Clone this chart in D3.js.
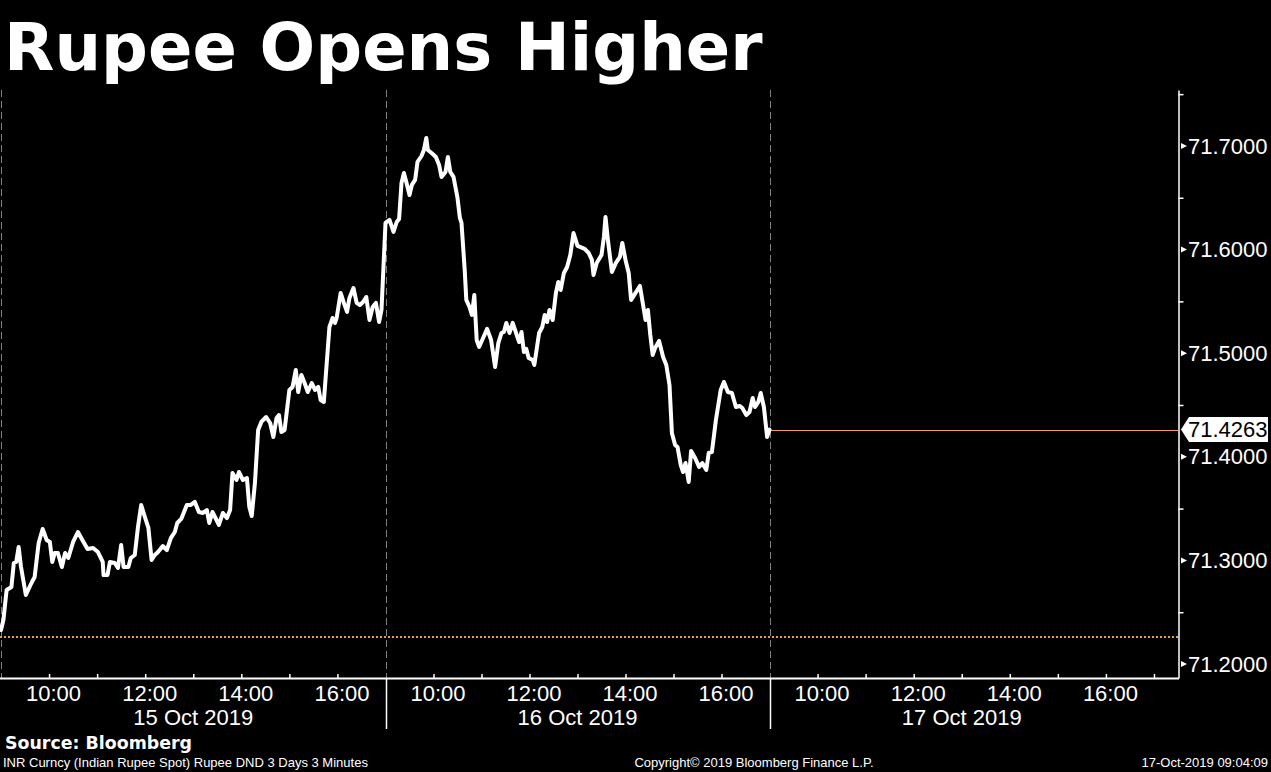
<!DOCTYPE html>
<html>
<head>
<meta charset="utf-8">
<script src="https://cdn.jsdelivr.net/npm/d3@7"></script>
<style>
  html, body { margin: 0; padding: 0; background: #000; }
  text { fill: #fff; }
</style>
</head>
<body>
<div id="chart"></div>
<script>
const title = 'Rupee Opens Higher';
const sourceLine = 'Source: Bloomberg';
const tickerLine = 'INR Curncy (Indian Rupee Spot) Rupee DND 3 Days 3 Minutes';
const copyrightLine = 'Copyright\u00a9 2019 Bloomberg Finance L.P.';
const stampLine = '17-Oct-2019 09:04:09';

const dayDates = ['2019-10-15', '2019-10-16', '2019-10-17'];
const dayLabels = ['15 Oct 2019', '16 Oct 2019', '17 Oct 2019'];
const sessionOpen = '09:00';
const sessionClose = '17:00';
const lastSessionEnd = '17:30';
const hourTicks = ['10:00', '11:00', '12:00', '13:00', '14:00', '15:00', '16:00'];
const hourLabels = ['10:00', '12:00', '14:00', '16:00'];
const dateLabelAt = '13:00';

const yTicks = [71.2, 71.3, 71.4, 71.5, 71.6, 71.7];
const yMinorTicks = [71.25, 71.35, 71.45, 71.55, 71.65, 71.75];
const yDomain = [71.1865, 71.754];

const lastPrice = 71.4263;
const refLevel = 71.226;

// INR per USD, 3 minute bars
const day1 = [
  ['09:00', 71.2328], ['09:03', 71.2425], ['09:07', 71.2714], ['09:13', 71.2743], ['09:16', 71.2975],
  ['09:19', 71.2985], ['09:22', 71.3129], ['09:25', 71.2936], ['09:31', 71.2666], ['09:38', 71.2782],
  ['09:42', 71.2840], ['09:47', 71.3168], ['09:52', 71.3303], ['09:57', 71.3197], ['10:01', 71.3178],
  ['10:04', 71.2985], ['10:07', 71.3071], ['10:11', 71.3071], ['10:16', 71.2936], ['10:20', 71.3071],
  ['10:24', 71.3023], ['10:30', 71.3178], ['10:36', 71.3274], ['10:43', 71.3178], ['10:48', 71.3110],
  ['10:55', 71.3120], ['11:01', 71.3081], ['11:07', 71.2985], ['11:08', 71.2859], ['11:13', 71.2859],
  ['11:16', 71.2985], ['11:22', 71.2975], ['11:26', 71.2927], ['11:30', 71.3149], ['11:33', 71.2936],
  ['11:39', 71.2936], ['11:42', 71.3023], ['11:47', 71.3052], ['11:51', 71.3322], ['11:55', 71.3535],
  ['12:00', 71.3409], ['12:04', 71.3313], ['12:08', 71.3004], ['12:12', 71.3052], ['12:16', 71.3081],
  ['12:22', 71.3139], ['12:27', 71.3100], ['12:32', 71.3216], ['12:37', 71.3274], ['12:40', 71.3361],
  ['12:45', 71.3400], ['12:52', 71.3535], ['12:57', 71.3535], ['13:02', 71.3564], ['13:07', 71.3467],
  ['13:12', 71.3458], ['13:17', 71.3486], ['13:20', 71.3361], ['13:24', 71.3467], ['13:29', 71.3390],
  ['13:32', 71.3342], ['13:37', 71.3458], ['13:42', 71.3409], ['13:46', 71.3486], ['13:49', 71.3844],
  ['13:54', 71.3776], ['13:57', 71.3853], ['14:02', 71.3776], ['14:07', 71.3795], ['14:10', 71.3515],
  ['14:13', 71.3429], ['14:17', 71.3747], ['14:21', 71.4259], ['14:25', 71.4336], ['14:31', 71.4384],
  ['14:36', 71.4326], ['14:40', 71.4191], ['14:44', 71.4375], ['14:47', 71.4403], ['14:50', 71.4239],
  ['14:54', 71.4259], ['14:57', 71.4452], ['15:00', 71.4645], ['15:04', 71.4674], ['15:08', 71.4838],
  ['15:11', 71.4625], ['15:15', 71.4790], ['15:19', 71.4712], ['15:23', 71.4625], ['15:28', 71.4712],
  ['15:32', 71.4645], ['15:36', 71.4674], ['15:39', 71.4548], ['15:43', 71.4529], ['15:46', 71.4838],
  ['15:50', 71.5253], ['15:54', 71.5340], ['15:57', 71.5292], ['15:59', 71.5340], ['16:04', 71.5581],
  ['16:08', 71.5485], ['16:12', 71.5398], ['16:15', 71.5533], ['16:20', 71.5629], ['16:24', 71.5485],
  ['16:28', 71.5465], ['16:32', 71.5494], ['16:36', 71.5542], ['16:40', 71.5320], ['16:44', 71.5446],
  ['16:48', 71.5485], ['16:52', 71.5301], ['16:55', 71.5417]
];

const day2 = [
  ['09:00', 71.6257], ['09:05', 71.6286], ['09:10', 71.6170], ['09:14', 71.6266], ['09:17', 71.6295],
  ['09:20', 71.6643], ['09:23', 71.6739], ['09:26', 71.6653], ['09:30', 71.6527], ['09:33', 71.6624],
  ['09:37', 71.6672], ['09:40', 71.6846], ['09:45', 71.6903], ['09:48', 71.6961], ['09:51', 71.7077],
  ['09:53', 71.6961], ['09:59', 71.6923], ['10:03', 71.6894], ['10:07', 71.6817], ['10:10', 71.6701],
  ['10:15', 71.6749], ['10:18', 71.6894], ['10:21', 71.6749], ['10:25', 71.6701], ['10:30', 71.6498],
  ['10:33', 71.6305], ['10:35', 71.6257], ['10:39', 71.5803], ['10:41', 71.5514], ['10:45', 71.5446],
  ['10:48', 71.5369], ['10:51', 71.5562], ['10:54', 71.5127], ['10:57', 71.5060], ['11:02', 71.5147],
  ['11:07', 71.5234], ['11:12', 71.5127], ['11:17', 71.4867], ['11:21', 71.5098], ['11:25', 71.5195],
  ['11:28', 71.5205], ['11:31', 71.5292], ['11:35', 71.5195], ['11:39', 71.5292], ['11:44', 71.5176],
  ['11:47', 71.5108], ['11:50', 71.5205], ['11:53', 71.5012], ['11:56', 71.5041], ['11:59', 71.4954],
  ['12:04', 71.4934], ['12:06', 71.4886], ['12:12', 71.5195], ['12:16', 71.5253], ['12:19', 71.5369],
  ['12:22', 71.5301], ['12:25', 71.5417], ['12:29', 71.5320], ['12:33', 71.5581], ['12:36', 71.5687],
  ['12:39', 71.5610], ['12:43', 71.5774], ['12:47', 71.5832], ['12:51', 71.5948], ['12:55', 71.6160],
  ['13:00', 71.6035], ['13:09', 71.6006], ['13:14', 71.5967], ['13:18', 71.5900], ['13:20', 71.5755],
  ['13:24', 71.5871], ['13:30', 71.5948], ['13:33', 71.6122], ['13:35', 71.6315], ['13:38', 71.6093],
  ['13:43', 71.5784], ['13:48', 71.5871], ['13:53', 71.5929], ['13:56', 71.6064], ['14:00', 71.5900],
  ['14:04', 71.5774], ['14:07', 71.5514], ['14:11', 71.5562], ['14:18', 71.5649], ['14:22', 71.5465],
  ['14:25', 71.5320], ['14:28', 71.5417], ['14:31', 71.5176], ['14:34', 71.4983], ['14:37', 71.5050],
  ['14:42', 71.5118], ['14:47', 71.4963], ['14:51', 71.4886], ['14:55', 71.4693], ['14:58', 71.4230],
  ['15:02', 71.4114], ['15:05', 71.4095], ['15:09', 71.3921], ['15:12', 71.3853], ['15:15', 71.3940],
  ['15:19', 71.3757], ['15:22', 71.4056], ['15:27', 71.3988], ['15:32', 71.3902], ['15:36', 71.3940],
  ['15:41', 71.3873], ['15:44', 71.4037], ['15:48', 71.4046], ['15:53', 71.4355], ['15:59', 71.4645],
  ['16:03', 71.4722], ['16:08', 71.4625], ['16:13', 71.4616], ['16:18', 71.4481], ['16:23', 71.4490],
  ['16:26', 71.4471], ['16:31', 71.4403], ['16:35', 71.4432], ['16:39', 71.4568], ['16:42', 71.4481],
  ['16:46', 71.4529], ['16:49', 71.4616], ['16:53', 71.4481], ['16:57', 71.4191]
];

const day3 = [
  ['09:00', 71.4263]
];

const W = 1271;
const H = 772;
const plot = { left: 0, right: 1178, top: 90, bottom: 678 };

const parse = d3.timeParse('%Y-%m-%d %H:%M');
const at = (day, hm) => parse(`${dayDates[day]} ${hm}`);

const series = [day1, day2, day3]
  .flatMap((rows, i) => rows.map(([t, v]) => ({ t: at(i, t), v: v })));

// each day is its own 9:00-17:00 stretch, so a piecewise time scale
const x = d3.scaleTime()
  .domain([at(0, sessionOpen), at(0, sessionClose), at(1, sessionOpen), at(1, sessionClose),
           at(2, sessionOpen), at(2, lastSessionEnd)])
  .range([1, 385.5, 385.5, 769.5, 769.5, plot.right]);

const y = d3.scaleLinear()
  .domain(yDomain)
  .range([plot.bottom, plot.top]);

const svg = d3.select('#chart')
  .append('svg')
  .attr('width', W)
  .attr('height', H)
  .style('display', 'block')
  .style('background', '#000');

svg.append('rect').attr('width', W).attr('height', H).attr('fill', '#000');

// title
svg.append('text')
  .attr('x', 4)
  .attr('y', 70)
  .style('font-family', '"DejaVu Sans", Verdana, sans-serif')
  .style('font-weight', 'bold')
  .style('font-size', '65.5px')
  .text(title);

// dashed day separators in the plot
const dayStarts = dayDates.map((d, i) => at(i, sessionOpen));
svg.append('g')
  .selectAll('line')
  .data(dayStarts)
  .join('line')
  .attr('x1', d => Math.round(x(d)) + 0.5)
  .attr('x2', d => Math.round(x(d)) + 0.5)
  .attr('y1', plot.top)
  .attr('y2', plot.bottom)
  .attr('stroke', '#808080')
  .attr('stroke-width', 1)
  .attr('stroke-dasharray', '7,4');

// reference level (dotted orange)
svg.append('line')
  .attr('x1', plot.left)
  .attr('x2', plot.right)
  .attr('y1', y(refLevel))
  .attr('y2', y(refLevel))
  .attr('stroke', '#e9a04c')
  .attr('stroke-width', 2)
  .attr('stroke-dasharray', '2,2');

// last price line
svg.append('line')
  .attr('x1', x(at(2, day3[0][0])))
  .attr('x2', plot.right)
  .attr('y1', Math.round(y(lastPrice)) + 0.5)
  .attr('y2', Math.round(y(lastPrice)) + 0.5)
  .attr('stroke', '#f09a7c')
  .attr('stroke-width', 1);

// price line
const line = d3.line()
  .x(d => x(d.t))
  .y(d => y(d.v));

svg.append('path')
  .datum(series)
  .attr('d', line)
  .attr('fill', 'none')
  .attr('stroke', '#fff')
  .attr('stroke-width', 4)
  .attr('stroke-linejoin', 'round')
  .attr('stroke-linecap', 'round');

// right axis
const yAxis = svg.append('g')
  .attr('transform', `translate(${plot.right + 0.5},0)`)
  .call(d3.axisRight(y).tickValues(yMinorTicks).tickSizeInner(5).tickSizeOuter(0).tickFormat(''));
yAxis.select('.domain').attr('stroke', '#fff').attr('stroke-width', 1.5);
yAxis.selectAll('.tick line').attr('stroke', '#fff').attr('stroke-width', 1.5);

const yLabels = svg.append('g')
  .selectAll('g')
  .data(yTicks)
  .join('g')
  .attr('transform', d => `translate(${plot.right},${y(d)})`);
yLabels.append('path')
  .attr('d', 'M3,-3L9,0L3,3Z')
  .attr('fill', '#fff');
yLabels.append('text')
  .attr('x', 10)
  .attr('dy', '0.35em')
  .style('font-family', '"Liberation Sans", Arial, sans-serif')
  .style('font-size', '22px')
  .text(d3.format('.4f'));

// last price tag
const tag = svg.append('g')
  .attr('transform', `translate(${plot.right},${y(lastPrice)})`);
tag.append('path')
  .attr('d', 'M3,0L11,-12.5H90V12.5H11Z')
  .attr('fill', '#fff');
tag.append('text')
  .attr('x', 10)
  .attr('dy', '0.35em')
  .style('font-family', '"Liberation Sans", Arial, sans-serif')
  .style('font-size', '22px')
  .style('fill', '#000')
  .text(d3.format('.4f')(lastPrice));

// bottom axis: hour ticks
const tickDates = dayDates.flatMap((d, i) => (i === 2 ? hourTicks.concat(['17:00']) : hourTicks).map(h => at(i, h)));
const xAxis = svg.append('g')
  .attr('transform', `translate(0,${plot.bottom})`)
  .call(d3.axisBottom(x).tickValues(tickDates).tickSizeInner(-4).tickSizeOuter(0).tickFormat(''));
xAxis.select('.domain').remove();
xAxis.selectAll('.tick line').attr('stroke', '#fff').attr('stroke-width', 1.5);

svg.append('line')
  .attr('x1', plot.left)
  .attr('x2', plot.right + 1)
  .attr('y1', plot.bottom + 0.5)
  .attr('y2', plot.bottom + 0.5)
  .attr('stroke', '#fff')
  .attr('stroke-width', 2);

// hour labels
const labelDates = dayDates.flatMap((d, i) => hourLabels.map(h => at(i, h)));
const xLabels = svg.append('g')
  .attr('transform', `translate(0,${plot.bottom})`)
  .call(d3.axisBottom(x).tickValues(labelDates).tickSize(0).tickPadding(7).tickFormat(d3.timeFormat('%H:%M')));
xLabels.select('.domain').remove();
xLabels.selectAll('text')
  .attr('fill', '#fff')
  .attr('dx', 4)
  .style('font-family', '"Liberation Sans", Arial, sans-serif')
  .style('font-size', '22px');

// date labels and solid separators under the axis
svg.append('g')
  .selectAll('text')
  .data(dayLabels)
  .join('text')
  .attr('x', (d, i) => x(at(i, dateLabelAt)))
  .attr('y', 725)
  .attr('text-anchor', 'middle')
  .style('font-family', '"Liberation Sans", Arial, sans-serif')
  .style('font-size', '22px')
  .text(d => d);

svg.append('g')
  .selectAll('line')
  .data(dayStarts.slice(1))
  .join('line')
  .attr('x1', d => Math.round(x(d)) + 0.5)
  .attr('x2', d => Math.round(x(d)) + 0.5)
  .attr('y1', plot.bottom)
  .attr('y2', 729)
  .attr('stroke', '#fff')
  .attr('stroke-width', 1.5);

// footer
svg.append('text')
  .attr('x', 5)
  .attr('y', 749)
  .style('font-family', '"DejaVu Sans", Verdana, sans-serif')
  .style('font-weight', 'bold')
  .style('font-size', '17.4px')
  .text(sourceLine);

const small = (txt, xx, anchor) => svg.append('text')
  .attr('x', xx)
  .attr('y', 767)
  .attr('text-anchor', anchor)
  .style('font-family', '"Liberation Sans", Arial, sans-serif')
  .style('font-size', '13px')
  .text(txt);

small(tickerLine, 3, 'start');
small(copyrightLine, 754, 'middle');
small(stampLine, 1268, 'end');
</script>
</body>
</html>
